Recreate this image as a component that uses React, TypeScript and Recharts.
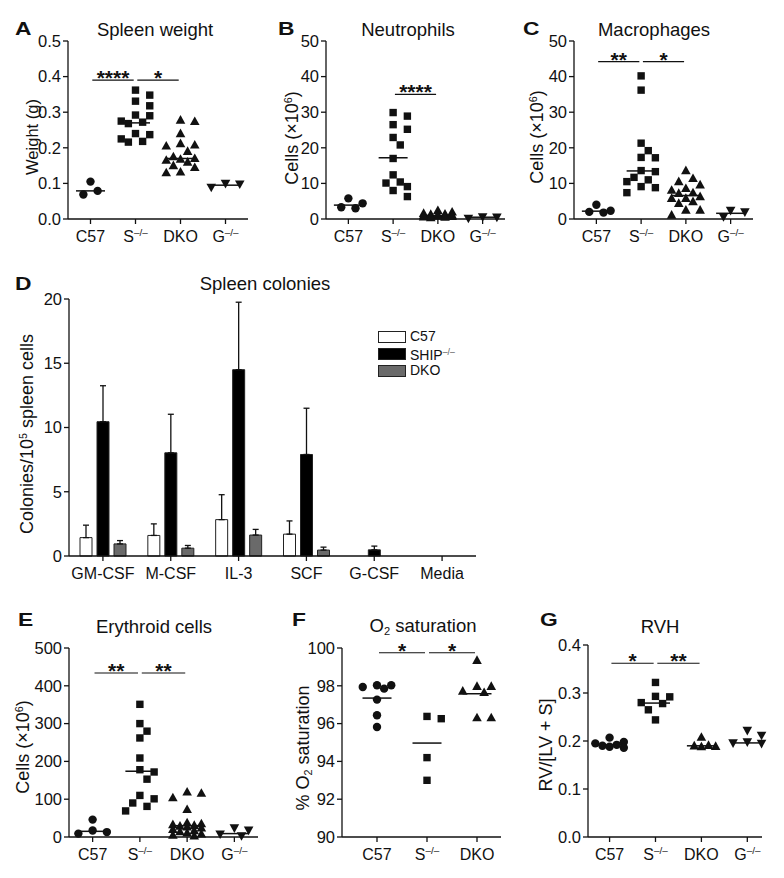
import React from "react";
import {
  ScatterChart,
  Scatter,
  BarChart,
  Bar,
  ErrorBar,
  XAxis,
  YAxis,
  ReferenceLine,
  Legend,
} from "recharts";

const FONT = '"Liberation Sans", Arial, Helvetica, sans-serif';
const INK = "#111";

// group labels
const groups4 = ["C57", "S-/-", "DKO", "G-/-"];
const groups3 = ["C57", "S-/-", "DKO"];

// A: spleen weight (g)
const weightC57 = [0.105, 0.079, 0.069];
const weightShip = [0.362, 0.348, 0.331, 0.318, 0.292, 0.29, 0.275, 0.272, 0.268, 0.24, 0.237, 0.225, 0.218, 0.216];
const weightDko = [0.278, 0.274, 0.24, 0.212, 0.208, 0.205, 0.19, 0.175, 0.17, 0.168, 0.165, 0.16, 0.15, 0.145, 0.132, 0.13];
const weightG = [0.1, 0.098, 0.089];
const weightMeans = [0.079, 0.27, 0.17, 0.095];

// B: neutrophils (x10^6)
const neutC57 = [5.8, 4.4, 3.3, 3.0];
const neutShip = [29.9, 28.9, 26.5, 25.2, 22.9, 20.8, 17.0, 12.4, 10.4, 10.1, 9.1, 8.0, 6.3];
const neutDko = [2.4, 2.0, 1.6, 1.4, 1.3, 1.2, 1.1, 1.0, 0.9, 0.9, 0.8, 0.7, 0.6, 0.5, 0.4];
const neutG = [0.6, 0.5, 0.2];
const neutMeans = [3.9, 17.2, 1.0, 0.5];

// C: macrophages (x10^6)
const macC57 = [4.0, 2.3, 2.0, 1.8];
const macShip = [40.2, 36.2, 21.3, 19.2, 17.3, 17.2, 13.6, 13.3, 11.7, 11.0, 10.5, 9.1, 8.8, 7.4];
const macDko = [13.6, 11.4, 10.5, 9.6, 8.6, 8.1, 7.4, 7.2, 6.3, 5.8, 5.8, 4.9, 4.4, 2.5, 2.5, 1.1];
const macG = [2.4, 2.0, 0.6];
const macMeans = [2.2, 13.5, 6.6, 1.6];

// D: spleen colonies per 10^5 cells
const colonyCats = ["GM-CSF", "M-CSF", "IL-3", "SCF", "G-CSF", "Media"];
const colC57 = [1.43, 1.6, 2.83, 1.7, 0, 0];
const colC57Err = [0.97, 0.9, 1.94, 1.03, 0, 0];
const colShip = [10.45, 8.03, 14.5, 7.9, 0.48, 0];
const colShipErr = [2.8, 3.0, 5.25, 3.6, 0.29, 0];
const colDko = [0.94, 0.61, 1.63, 0.46, 0, 0];
const colDkoErr = [0.26, 0.21, 0.44, 0.23, 0, 0];
const legendOrder = ["C57", "SHIP-/-", "DKO"];

// E: erythroid cells (x10^6)
const eryC57 = [46, 17, 13, 9];
const eryShip = [351, 300, 280, 262, 209, 178, 172, 153, 110, 101, 90, 81, 69];
const eryDko = [119, 116, 104, 73, 38, 35, 33, 31, 29, 27, 24, 20, 17, 14, 11, 8, 5, 3];
const eryG = [24, 18, 8, 3];
const eryMeans = [15, 174, 30, 9];

// F: O2 saturation (%)
const o2C57 = [98.03, 97.94, 97.85, 98.03, 97.27, 96.44, 95.82];
const o2Ship = [96.26, 96.38, 94.2, 93.0];
const o2Dko = [99.35, 97.97, 97.97, 97.72, 97.65, 96.31, 96.31];
const o2Means = [97.35, 94.97, 97.58];

// G: RVH
const rvhC57 = [0.207, 0.198, 0.195, 0.192, 0.19, 0.188, 0.186];
const rvhShip = [0.322, 0.293, 0.292, 0.28, 0.278, 0.265, 0.244];
const rvhDko = [0.208, 0.191, 0.189, 0.188, 0.19];
const rvhG = [0.222, 0.212, 0.198, 0.196, 0.195];
const rvhMeans = [0.192, 0.279, 0.19, 0.196];

type Sig = { from: number; to: number; y: number; stars: string };

const shapes: Record<string, (p: any) => React.ReactElement> = {
  circle: ({ cx, cy }) => <circle cx={cx} cy={cy} r={4.2} fill={INK} />,
  square: ({ cx, cy }) => <rect x={cx - 3.7} y={cy - 3.7} width={7.4} height={7.4} fill={INK} />,
  up: ({ cx, cy }) => (
    <path d={`M${cx},${cy - 5} L${cx + 4.8},${cy + 3.6} L${cx - 4.8},${cy + 3.6}Z`} fill={INK} />
  ),
  down: ({ cx, cy }) => (
    <path d={`M${cx},${cy + 5} L${cx + 4.8},${cy - 3.6} L${cx - 4.8},${cy - 3.6}Z`} fill={INK} />
  ),
};
const groupShapes = ["circle", "square", "up", "down"];

// simple beeswarm: horizontal offsets so markers don't sit on top of each other
function swarm(values: number[], pyPerUnit: number, pxPerUnit: number, d = 9.5, maxPx = 14.5) {
  const placed: { x: number; y: number }[] = [];
  const offs = values.map(() => 0);
  const order = values.map((_, i) => i).sort((a, b) => values[b] - values[a]);
  const step = d * 0.75;
  const cands = [0];
  for (let k = 1; k * step <= maxPx; k++) cands.push(k * step, -k * step);
  for (const i of order) {
    const y = values[i] * pyPerUnit;
    let best = 0;
    let bestDist = -1;
    for (const x of cands) {
      const dist = placed.reduce((m, p) => Math.min(m, Math.hypot(p.x - x, p.y - y)), Infinity);
      if (dist >= d) {
        best = x;
        break;
      }
      if (dist > bestDist) {
        bestDist = dist;
        best = x;
      }
    }
    placed.push({ x: best, y });
    offs[i] = best / pxPerUnit;
  }
  return offs;
}

function SvgRich({ text }: { text: string }) {
  const i = text.indexOf("-/-");
  if (i < 0) return <>{text}</>;
  return (
    <>
      {text.slice(0, i)}
      <tspan fontSize="0.62em" dy="-0.6em">
        {"\u2013/\u2013"}
      </tspan>
    </>
  );
}

function HtmlRich({ text }: { text: string }) {
  const i = text.indexOf("-/-");
  if (i < 0) return <>{text}</>;
  return (
    <>
      {text.slice(0, i)}
      <span style={{ fontSize: "0.62em", verticalAlign: "0.55em", color: "#555" }}>{"\u2013/\u2013"}</span>
    </>
  );
}

function Sup({ children }: { children: React.ReactNode }) {
  return <span style={{ fontSize: "0.6em", verticalAlign: "0.6em" }}>{children}</span>;
}
function Sub({ children }: { children: React.ReactNode }) {
  return <span style={{ fontSize: "0.6em", verticalAlign: "-0.25em" }}>{children}</span>;
}

function Letter({ x, y, children }: { x: number; y: number; children: string }) {
  return (
    <div
      style={{
        position: "absolute",
        left: x,
        top: y,
        fontSize: 19,
        fontWeight: 700,
        lineHeight: 1,
        transform: "translateY(-50%) scaleX(1.2)",
        transformOrigin: "left center",
      }}
    >
      {children}
    </div>
  );
}

function Title({ x, y, children }: { x: number; y: number; children: React.ReactNode }) {
  return (
    <div
      style={{
        position: "absolute",
        left: x,
        top: y,
        fontSize: 18.5,
        lineHeight: 1,
        whiteSpace: "nowrap",
        transform: "translate(-50%, -50%)",
      }}
    >
      {children}
    </div>
  );
}

function YTitle({ x, y, size = 18, children }: { x: number; y: number; size?: number; children: React.ReactNode }) {
  return (
    <div
      style={{
        position: "absolute",
        left: x,
        top: y,
        fontSize: size,
        lineHeight: 1,
        whiteSpace: "nowrap",
        transform: "translate(-50%, -50%) rotate(-90deg)",
      }}
    >
      {children}
    </div>
  );
}

const starLabel = (stars: string) => (p: any) => {
  const vb = p.viewBox || {};
  return (
    <text
      x={vb.x + vb.width / 2}
      y={vb.y + 5}
      textAnchor="middle"
      fontSize={21}
      fontWeight={700}
      fill={INK}
      fontFamily={FONT}
    >
      {stars}
    </text>
  );
};

interface DotPanelProps {
  plot: { x: number; y: number; w: number; h: number };
  yDomain: [number, number];
  yTicks: number[];
  yFmt: (v: number) => string;
  xDomain: [number, number];
  labels: string[];
  series: number[][];
  means: number[];
  sigs: Sig[];
}

function DotPanel({ plot, yDomain, yTicks, yFmt, xDomain, labels, series, means, sigs }: DotPanelProps) {
  const YW = 60;
  const MT = 14;
  const MR = 14;
  const XH = 36;
  const py = plot.h / (yDomain[1] - yDomain[0]);
  const px = plot.w / (xDomain[1] - xDomain[0]);
  const half = 14.5 / px;

  const points = series.map((vals, gi) => {
    const offs = swarm(vals, py, px);
    return vals.map((v, j) => ({ x: gi + offs[j], y: v }));
  });

  const renderTick = (p: any) => (
    <text x={p.x} y={p.y + 16} textAnchor="middle" fontSize={16} fill={INK} fontFamily={FONT}>
      <SvgRich text={labels[p.payload.value] ?? ""} />
    </text>
  );

  return (
    <div style={{ position: "absolute", left: plot.x - YW, top: plot.y - MT }}>
      <ScatterChart
        width={YW + plot.w + MR}
        height={MT + plot.h + XH}
        margin={{ top: MT, right: MR, bottom: 0, left: 0 }}
      >
        <XAxis
          type="number"
          dataKey="x"
          domain={xDomain}
          ticks={labels.map((_, i) => i)}
          interval={0}
          height={XH}
          tick={renderTick}
          tickSize={5}
          axisLine={{ stroke: INK, strokeWidth: 1.3 }}
          tickLine={{ stroke: INK, strokeWidth: 1.3 }}
        />
        <YAxis
          type="number"
          dataKey="y"
          domain={yDomain}
          ticks={yTicks}
          interval={0}
          tickFormatter={yFmt}
          width={YW}
          tickSize={5}
          tick={{ fontSize: 16.5, fill: INK, fontFamily: FONT }}
          axisLine={{ stroke: INK, strokeWidth: 1.3 }}
          tickLine={{ stroke: INK, strokeWidth: 1.3 }}
        />
        {points.map((pts, gi) => (
          <Scatter
            key={gi}
            data={pts}
            fill={INK}
            shape={shapes[groupShapes[gi]]}
            isAnimationActive={false}
          />
        ))}
        {means.map((m, gi) => (
          <ReferenceLine
            key={`m${gi}`}
            segment={[
              { x: gi - half, y: m },
              { x: gi + half, y: m },
            ]}
            stroke={INK}
            strokeWidth={1.5}
            ifOverflow="visible"
          />
        ))}
        {sigs.map((s, i) => (
          <ReferenceLine
            key={`s${i}`}
            segment={[
              { x: s.from + 0.04, y: s.y },
              { x: s.to - 0.04, y: s.y },
            ]}
            stroke={INK}
            strokeWidth={1.1}
            ifOverflow="visible"
            label={starLabel(s.stars)}
          />
        ))}
      </ScatterChart>
    </div>
  );
}

const colonyRows = colonyCats.map((cat, i) => ({
  cat,
  c57: colC57[i],
  c57Err: colC57[i] ? [0, colC57Err[i]] : null,
  ship: colShip[i],
  shipErr: colShip[i] ? [0, colShipErr[i]] : null,
  dko: colDko[i],
  dkoErr: colDko[i] ? [0, colDkoErr[i]] : null,
}));

const legendFills: Record<string, string> = { C57: "#fff", "SHIP-/-": "#000", DKO: "#6a6a6a" };

function ColonyLegend(props: any) {
  const items = [...(props.payload || [])].sort(
    (a: any, b: any) => legendOrder.indexOf(a.value) - legendOrder.indexOf(b.value)
  );
  return (
    <div style={{ fontFamily: FONT, fontSize: 14, lineHeight: "17px", color: INK }}>
      {items.map((it: any, i: number) => (
        <div key={i} style={{ display: "flex", alignItems: "center", height: 17 }}>
          <span
            style={{
              display: "inline-block",
              width: 26,
              height: 10,
              background: legendFills[it.value] ?? it.color,
              border: "1px solid #222",
              marginRight: 4,
            }}
          />
          <span style={{ whiteSpace: "nowrap" }}>
            <HtmlRich text={String(it.value)} />
          </span>
        </div>
      ))}
    </div>
  );
}

function ColonyPanel() {
  const renderTick = (p: any) => (
    <text x={p.x} y={p.y + 16} textAnchor="middle" fontSize={16} fill={INK} fontFamily={FONT}>
      {p.payload.value}
    </text>
  );
  return (
    <div style={{ position: "absolute", left: 0, top: 280 }}>
      <BarChart
        width={500}
        height={320}
        data={colonyRows}
        margin={{ top: 19, right: 24, bottom: 14, left: 0 }}
        barSize={12}
        barGap={5}
      >
        <XAxis
          dataKey="cat"
          height={30}
          interval={0}
          tick={renderTick}
          tickSize={5}
          axisLine={{ stroke: INK, strokeWidth: 1.3 }}
          tickLine={{ stroke: INK, strokeWidth: 1.3 }}
        />
        <YAxis
          domain={[0, 20]}
          ticks={[0, 5, 10, 15, 20]}
          interval={0}
          width={69}
          tickSize={5}
          tick={{ fontSize: 16.5, fill: INK, fontFamily: FONT }}
          axisLine={{ stroke: INK, strokeWidth: 1.3 }}
          tickLine={{ stroke: INK, strokeWidth: 1.3 }}
        />
        <Legend
          layout="vertical"
          align="center"
          verticalAlign="middle"
          content={ColonyLegend}
          wrapperStyle={{ position: "absolute", left: 378, top: 48, width: 120 }}
        />
        <Bar dataKey="c57" name="C57" fill="#fff" stroke="#222" strokeWidth={1} isAnimationActive={false}>
          <ErrorBar dataKey="c57Err" width={3} stroke={INK} strokeWidth={1.3} direction="y" />
        </Bar>
        <Bar dataKey="ship" name="SHIP-/-" fill="#000" stroke="#222" strokeWidth={1} isAnimationActive={false}>
          <ErrorBar dataKey="shipErr" width={3} stroke={INK} strokeWidth={1.3} direction="y" />
        </Bar>
        <Bar dataKey="dko" name="DKO" fill="#6a6a6a" stroke="#222" strokeWidth={1} isAnimationActive={false}>
          <ErrorBar dataKey="dkoErr" width={3} stroke={INK} strokeWidth={1.3} direction="y" />
        </Bar>
      </BarChart>
    </div>
  );
}

const fmt1 = (v: number) => v.toFixed(1);
const fmt0 = (v: number) => String(v);

export default function App() {
  return (
    <div
      style={{
        position: "absolute",
        left: 0,
        top: 0,
        width: 784,
        height: 878,
        background: "#fff",
        fontFamily: FONT,
        color: INK,
      }}
    >
      {/* A */}
      <Letter x={15} y={28}>A</Letter>
      <Title x={155} y={29.5}>Spleen weight</Title>
      <YTitle x={32} y={137} size={16.5}>Weight (g)</YTitle>
      <DotPanel
        plot={{ x: 68, y: 41, w: 180, h: 178 }}
        yDomain={[0, 0.5]}
        yTicks={[0, 0.1, 0.2, 0.3, 0.4, 0.5]}
        yFmt={fmt1}
        xDomain={[-0.5, 3.5]}
        labels={groups4}
        series={[weightC57, weightShip, weightDko, weightG]}
        means={weightMeans}
        sigs={[
          { from: 0, to: 1, y: 0.39, stars: "****" },
          { from: 1, to: 2, y: 0.39, stars: "*" },
        ]}
      />

      {/* B */}
      <Letter x={278} y={28}>B</Letter>
      <Title x={408} y={29.5}>Neutrophils</Title>
      <YTitle x={292} y={138}>
        Cells (×10<Sup>6</Sup>)
      </YTitle>
      <DotPanel
        plot={{ x: 326, y: 41, w: 179, h: 178 }}
        yDomain={[0, 50]}
        yTicks={[0, 10, 20, 30, 40, 50]}
        yFmt={fmt0}
        xDomain={[-0.5, 3.5]}
        labels={groups4}
        series={[neutC57, neutShip, neutDko, neutG]}
        means={neutMeans}
        sigs={[{ from: 1, to: 2, y: 35, stars: "****" }]}
      />

      {/* C */}
      <Letter x={523} y={28}>C</Letter>
      <Title x={654} y={29.5}>Macrophages</Title>
      <YTitle x={537} y={137}>
        Cells (×10<Sup>6</Sup>)
      </YTitle>
      <DotPanel
        plot={{ x: 574, y: 41, w: 179, h: 178 }}
        yDomain={[0, 50]}
        yTicks={[0, 10, 20, 30, 40, 50]}
        yFmt={fmt0}
        xDomain={[-0.5, 3.5]}
        labels={groups4}
        series={[macC57, macShip, macDko, macG]}
        means={macMeans}
        sigs={[
          { from: 0, to: 1, y: 44.2, stars: "**" },
          { from: 1, to: 2, y: 44.2, stars: "*" },
        ]}
      />

      {/* D */}
      <Letter x={15} y={283}>D</Letter>
      <Title x={265} y={284}>Spleen colonies</Title>
      <YTitle x={27} y={434}>
        Colonies/10<Sup>5</Sup> spleen cells
      </YTitle>
      <ColonyPanel />

      {/* E */}
      <Letter x={18} y={619}>E</Letter>
      <Title x={154} y={626.5}>Erythroid cells</Title>
      <YTitle x={23} y={747}>
        Cells (×10<Sup>6</Sup>)
      </YTitle>
      <DotPanel
        plot={{ x: 69, y: 648, w: 189, h: 189 }}
        yDomain={[0, 500]}
        yTicks={[0, 100, 200, 300, 400, 500]}
        yFmt={fmt0}
        xDomain={[-0.5, 3.5]}
        labels={groups4}
        series={[eryC57, eryShip, eryDko, eryG]}
        means={eryMeans}
        sigs={[
          { from: 0, to: 1, y: 434, stars: "**" },
          { from: 1, to: 2, y: 434, stars: "**" },
        ]}
      />

      {/* F */}
      <Letter x={292} y={619}>F</Letter>
      <Title x={423} y={626.5}>
        O<Sub>2</Sub> saturation
      </Title>
      <YTitle x={304} y={748}>
        % O<Sub>2</Sub> saturation
      </YTitle>
      <DotPanel
        plot={{ x: 342, y: 648, w: 159, h: 189 }}
        yDomain={[90, 100]}
        yTicks={[90, 92, 94, 96, 98, 100]}
        yFmt={fmt0}
        xDomain={[-0.7, 2.48]}
        labels={groups3}
        series={[o2C57, o2Ship, o2Dko]}
        means={o2Means}
        sigs={[
          { from: 0, to: 1, y: 99.75, stars: "*" },
          { from: 1, to: 2, y: 99.75, stars: "*" },
        ]}
      />

      {/* G */}
      <Letter x={540} y={619}>G</Letter>
      <Title x={660} y={626.5}>RVH</Title>
      <YTitle x={546} y={745}>RV/[LV + S]</YTitle>
      <DotPanel
        plot={{ x: 588, y: 645, w: 174, h: 192 }}
        yDomain={[0, 0.4]}
        yTicks={[0, 0.1, 0.2, 0.3, 0.4]}
        yFmt={fmt1}
        xDomain={[-0.47, 3.32]}
        labels={groups4}
        series={[rvhC57, rvhShip, rvhDko, rvhG]}
        means={rvhMeans}
        sigs={[
          { from: 0, to: 1, y: 0.362, stars: "*" },
          { from: 1, to: 2, y: 0.362, stars: "**" },
        ]}
      />
    </div>
  );
}
